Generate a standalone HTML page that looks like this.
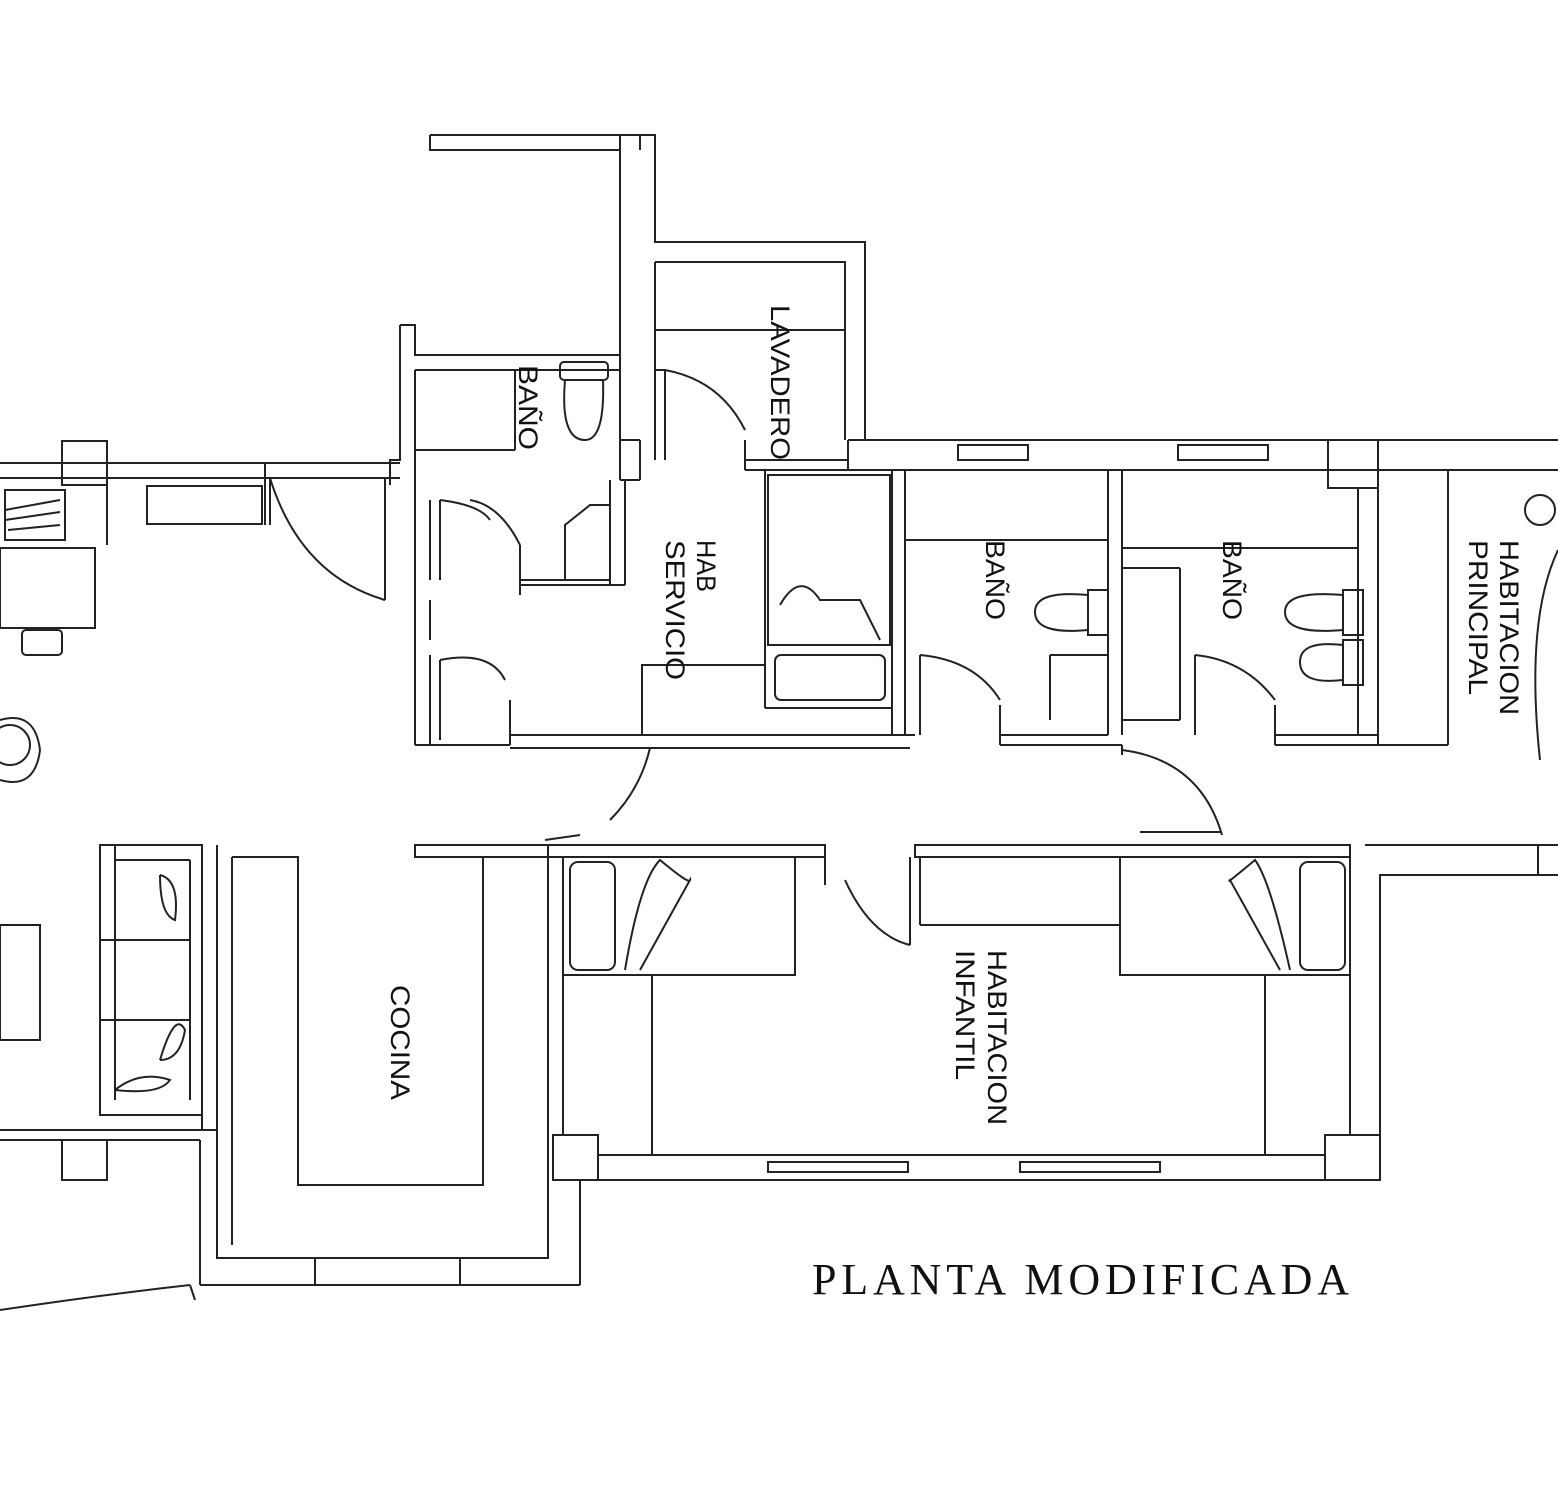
<!DOCTYPE html>
<html><head><meta charset="utf-8"><style>
html,body{margin:0;padding:0;background:#fff;}
svg{display:block}
text{font-family:"Liberation Sans",sans-serif;fill:#111}
</style></head><body>
<svg width="1558" height="1500" viewBox="0 0 1558 1500" xmlns="http://www.w3.org/2000/svg">
<g fill="none" stroke="#222" stroke-width="2">
<polyline points="430,135 620,135 620,480"/>
<polyline points="430,135 430,150 620,150"/>
<polyline points="640,135 640,150"/>
<polyline points="620,135 655,135 655,242 865,242 865,440"/>
<polyline points="655,262 845,262 845,440"/>
<line x1="655" y1="262" x2="655" y2="370"/>
<line x1="655" y1="330" x2="845" y2="330"/>
<line x1="655" y1="370" x2="665" y2="370"/><line x1="665" y1="370" x2="665" y2="460"/><line x1="655" y1="370" x2="655" y2="460"/>
<polyline points="400,325 415,325 415,355 620,355"/>
<line x1="415" y1="370" x2="620" y2="370"/>
<polyline points="400,325 400,460 390,460 390,485"/>
<line x1="415" y1="370" x2="415" y2="485"/>
<line x1="515" y1="370" x2="515" y2="450"/><line x1="415" y1="450" x2="515" y2="450"/>
<line x1="620" y1="440" x2="640" y2="440"/><line x1="640" y1="440" x2="640" y2="480"/><line x1="620" y1="480" x2="640" y2="480"/>
<polyline points="565,580 565,525 590,505 610,505 610,580"/>
<line x1="520" y1="580" x2="610" y2="580"/>
<line x1="520" y1="585" x2="625" y2="585"/><line x1="610" y1="480" x2="610" y2="585"/>
<line x1="625" y1="480" x2="625" y2="585"/>
<line x1="520" y1="545" x2="520" y2="595"/>
<path d="M520,545 Q500,505 470,500"/>
<line x1="0" y1="463" x2="400" y2="463"/><line x1="0" y1="478" x2="400" y2="478"/>
<rect x="62" y="441" width="45" height="44"/>
<rect x="147" y="486" width="115" height="38"/>
<line x1="265" y1="463" x2="265" y2="525"/><line x1="270" y1="478" x2="270" y2="525"/>
<line x1="385" y1="478" x2="385" y2="600"/>
<path d="M270,478 Q300,575 385,600"/>
<line x1="107" y1="485" x2="107" y2="545"/>
<line x1="415" y1="485" x2="415" y2="745"/><line x1="430" y1="500" x2="430" y2="580"/>
<line x1="430" y1="655" x2="430" y2="745"/><line x1="430" y1="600" x2="430" y2="640"/>
<line x1="440" y1="500" x2="440" y2="580"/>
<path d="M440,500 Q480,505 490,520"/>
<line x1="440" y1="660" x2="440" y2="740"/>
<path d="M440,660 Q490,650 505,680"/>
<line x1="415" y1="745" x2="510" y2="745"/>
<line x1="510" y1="700" x2="510" y2="745"/>
<path d="M665,370 Q720,380 745,430"/>
<line x1="745" y1="440" x2="745" y2="470"/><line x1="745" y1="470" x2="905" y2="470"/><line x1="745" y1="460" x2="848" y2="460"/>
<rect x="768" y="475" width="122" height="170"/>
<rect x="775" y="655" width="110" height="45" rx="6"/>
<line x1="765" y1="470" x2="765" y2="708"/><line x1="765" y1="708" x2="892" y2="708"/>
<path d="M780,605 Q800,570 820,600 L860,600 L880,640"/>
<polyline points="642,735 642,665 765,665"/>
<line x1="510" y1="735" x2="915" y2="735"/>
<line x1="510" y1="748" x2="910" y2="748"/>
<line x1="892" y1="470" x2="892" y2="735"/><line x1="905" y1="470" x2="905" y2="735"/>
<line x1="848" y1="440" x2="1558" y2="440"/><line x1="848" y1="470" x2="1558" y2="470"/>
<rect x="958" y="445" width="70" height="15"/><rect x="1178" y="445" width="90" height="15"/>
<line x1="848" y1="440" x2="848" y2="470"/>
<rect x="1328" y="440" width="50" height="48"/>
<line x1="1108" y1="470" x2="1108" y2="735"/><line x1="1122" y1="470" x2="1122" y2="735"/>
<line x1="905" y1="540" x2="1108" y2="540"/><line x1="1122" y1="548" x2="1358" y2="548"/>
<line x1="1122" y1="568" x2="1180" y2="568"/><line x1="1180" y1="568" x2="1180" y2="720"/>
<line x1="1050" y1="655" x2="1108" y2="655"/><line x1="1050" y1="655" x2="1050" y2="720"/>
<line x1="920" y1="655" x2="920" y2="735"/><path d="M920,655 Q975,660 1000,700"/>
<line x1="1195" y1="655" x2="1195" y2="735"/><path d="M1195,655 Q1245,660 1275,700"/>
<line x1="1000" y1="705" x2="1000" y2="745"/><line x1="1275" y1="705" x2="1275" y2="745"/>
<line x1="1000" y1="735" x2="1108" y2="735"/><line x1="1000" y1="745" x2="1122" y2="745"/>
<line x1="1122" y1="720" x2="1180" y2="720"/>
<line x1="1275" y1="735" x2="1378" y2="735"/><line x1="1275" y1="745" x2="1448" y2="745"/>
<line x1="1122" y1="745" x2="1122" y2="755"/>
<line x1="1358" y1="488" x2="1358" y2="735"/><line x1="1378" y1="470" x2="1378" y2="745"/>
<line x1="1448" y1="470" x2="1448" y2="745"/>
<path d="M1122,750 Q1200,760 1222,835"/>
<line x1="1140" y1="832" x2="1222" y2="832"/>
<path d="M555,748 L650,748 Q640,790 610,820"/>
<line x1="545" y1="840" x2="580" y2="835"/>
<rect x="560" y="362" width="48" height="18" rx="4"/><path d="M565,380 Q560,440 585,440 Q605,440 603,380"/>
<rect x="1088" y="590" width="20" height="45"/><path d="M1088,595 Q1035,590 1035,612 Q1035,635 1088,630"/>
<rect x="1343" y="590" width="20" height="45"/><path d="M1343,595 Q1285,590 1285,612 Q1285,635 1343,630"/>
<rect x="1343" y="640" width="20" height="45"/><path d="M1343,645 Q1300,640 1300,662 Q1300,685 1343,680"/>
<rect x="415" y="845" width="410" height="12"/>
<rect x="915" y="845" width="435" height="12"/>
<line x1="825" y1="845" x2="825" y2="885"/>
<path d="M845,880 Q870,935 910,945"/>
<line x1="910" y1="857" x2="910" y2="945"/>
<line x1="920" y1="857" x2="920" y2="925"/><line x1="920" y1="925" x2="1120" y2="925"/>
<rect x="563" y="857" width="232" height="118"/>
<rect x="570" y="862" width="45" height="108" rx="8"/>
<path d="M625,970 Q640,880 660,860 Q690,885 690,880 L640,970"/>
<rect x="1120" y="857" width="230" height="118"/>
<rect x="1300" y="862" width="45" height="108" rx="8"/>
<path d="M1290,970 Q1270,880 1255,860 Q1225,885 1230,880 L1280,970"/>
<line x1="548" y1="845" x2="548" y2="1155"/><line x1="563" y1="857" x2="563" y2="1135"/>
<line x1="652" y1="975" x2="652" y2="1155"/><line x1="1265" y1="975" x2="1265" y2="1155"/>
<polyline points="1350,857 1350,1135 1380,1135 1380,875 1558,875"/>
<line x1="1538" y1="845" x2="1558" y2="845"/><line x1="1538" y1="845" x2="1538" y2="875"/>
<line x1="1365" y1="845" x2="1538" y2="845"/>
<line x1="598" y1="1155" x2="1325" y2="1155"/><line x1="598" y1="1180" x2="1380" y2="1180"/>
<rect x="553" y="1135" width="45" height="45"/><rect x="1325" y="1135" width="55" height="45"/>
<rect x="768" y="1162" width="140" height="10"/><rect x="1020" y="1162" width="140" height="10"/>
<polyline points="217,845 217,1258 548,1258 548,1155"/>
<polyline points="232,857 232,1245"/>
<polyline points="232,857 298,857 298,1185 483,1185 483,857"/>
<line x1="548" y1="1258" x2="548" y2="1180"/>
<line x1="580" y1="1180" x2="580" y2="1285"/>
<line x1="200" y1="1285" x2="580" y2="1285"/>
<rect x="315" y="1258" width="145" height="27"/>
<rect x="100" y="845" width="102" height="270"/>
<line x1="115" y1="845" x2="115" y2="1100"/><line x1="115" y1="860" x2="190" y2="860"/><line x1="190" y1="860" x2="190" y2="1100"/>
<line x1="100" y1="940" x2="190" y2="940"/><line x1="100" y1="1020" x2="190" y2="1020"/>
<path d="M160,875 Q180,880 175,920 Q160,915 160,875"/>
<path d="M160,1060 Q175,1010 185,1030 Q180,1060 160,1060"/>
<path d="M115,1090 Q140,1070 170,1080 Q160,1095 115,1090"/>
<line x1="202" y1="845" x2="202" y2="1130"/>
<line x1="0" y1="1130" x2="217" y2="1130"/><line x1="0" y1="1140" x2="200" y2="1140"/>
<rect x="62" y="1140" width="45" height="40"/>
<rect x="0" y="925" width="40" height="115"/>
<line x1="200" y1="1140" x2="200" y2="1285"/>
<path d="M0,1310 Q100,1295 190,1285"/><line x1="190" y1="1285" x2="195" y2="1300"/>
<rect x="0" y="548" width="95" height="80"/>
<rect x="22" y="630" width="40" height="25" rx="4"/>
<rect x="5" y="490" width="60" height="50"/>
<path d="M5,510 L60,500 M5,520 L60,512 M8,530 L60,525"/>
<path d="M0,720 Q35,710 40,750 Q35,790 0,780"/>
<circle cx="10" cy="745" r="20"/>
<circle cx="1540" cy="510" r="15"/>
<path d="M1558,550 Q1525,620 1540,760"/>
</g>
<g font-size="27">
<text transform="translate(771,305) rotate(90)" textLength="155" lengthAdjust="spacingAndGlyphs">LAVADERO</text>
<text transform="translate(519,365) rotate(90)" textLength="85" lengthAdjust="spacingAndGlyphs">BAÑO</text>
<text transform="translate(697,540) rotate(90)" textLength="52" lengthAdjust="spacingAndGlyphs">HAB</text>
<text transform="translate(666,540) rotate(90)" textLength="140" lengthAdjust="spacingAndGlyphs">SERVICIO</text>
<text transform="translate(986,540) rotate(90)" textLength="80" lengthAdjust="spacingAndGlyphs">BAÑO</text>
<text transform="translate(1223,540) rotate(90)" textLength="80" lengthAdjust="spacingAndGlyphs">BAÑO</text>
<text transform="translate(1500,540) rotate(90)" textLength="175" lengthAdjust="spacingAndGlyphs">HABITACION</text>
<text transform="translate(1469,540) rotate(90)" textLength="155" lengthAdjust="spacingAndGlyphs">PRINCIPAL</text>
<text transform="translate(391,985) rotate(90)" textLength="115" lengthAdjust="spacingAndGlyphs">COCINA</text>
<text transform="translate(988,950) rotate(90)" textLength="175" lengthAdjust="spacingAndGlyphs">HABITACION</text>
<text transform="translate(956,950) rotate(90)" textLength="130" lengthAdjust="spacingAndGlyphs">INFANTIL</text>
</g>
<text x="812" y="1294" font-size="44" letter-spacing="3" style="font-family:'Liberation Serif',serif" textLength="540">PLANTA MODIFICADA</text>
</svg>
</body></html>
